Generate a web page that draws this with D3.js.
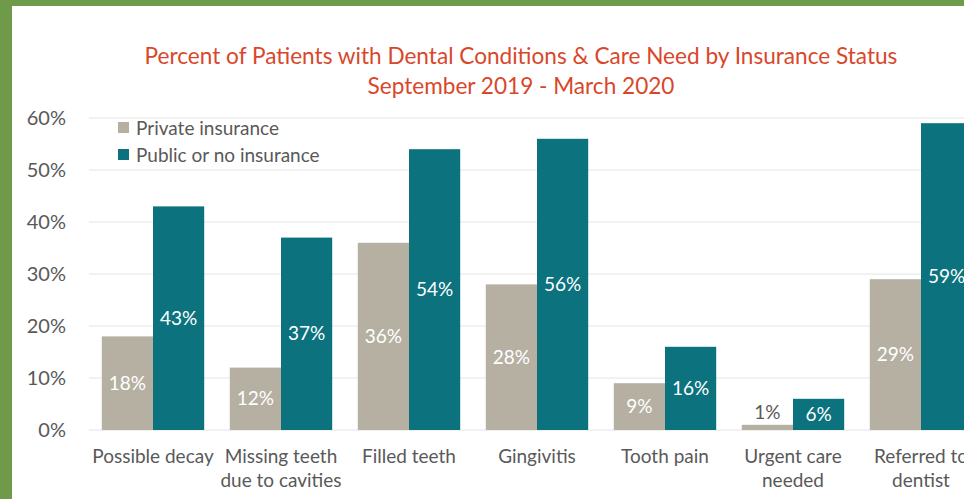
<!DOCTYPE html>
<html>
<head>
<meta charset="utf-8">
<script src="https://cdn.jsdelivr.net/npm/d3@7"></script>
<style>
  html, body { margin: 0; padding: 0; background: #6E9A4A; }
  svg { display: block; }
</style>
</head>
<body>
<svg id="chart" width="964" height="499"></svg>
<script>
const categories = [
  ["Possible decay"],
  ["Missing teeth", "due to cavities"],
  ["Filled teeth"],
  ["Gingivitis"],
  ["Tooth pain"],
  ["Urgent care", "needed"],
  ["Referred to", "dentist"]
];
const privateValues = [18, 12, 36, 28, 9, 1, 29];
const publicValues = [43, 37, 54, 56, 16, 6, 59];
const seriesNames = ["Private insurance", "Public or no insurance"];
const yTicks = [0, 10, 20, 30, 40, 50, 60];

const svg = d3.select("#chart");
const font = "Lato, 'Open Sans', sans-serif";

// fond blanc, bordure verte à gauche et en haut
svg.append("rect").attr("x", 12).attr("y", 6).attr("width", 952).attr("height", 493).attr("fill", "#fff");

const x0 = d3.scaleBand().domain(d3.range(categories.length)).range([89, 985]).paddingInner(0.2).paddingOuter(0.1);
const x1 = d3.scaleBand().domain([0, 1]).range([0, x0.bandwidth()]);
const y = d3.scaleLinear().domain([0, 60]).range([430, 118]);

const colors = ["#B6B0A3", "#0B727E"];

// lignes de grille
svg.append("g").selectAll("line").data(yTicks).join("line")
  .attr("x1", 89).attr("x2", 964)
  .attr("y1", d => y(d)).attr("y2", d => y(d))
  .attr("stroke", "#E4E4E4").attr("stroke-width", 1);

// axe Y
const yAxis = svg.append("g").attr("transform", "translate(66,0)")
  .call(d3.axisLeft(y).tickValues(yTicks).tickFormat(d => d + "%").tickSize(0).tickPadding(0));
yAxis.select(".domain").remove();
yAxis.selectAll("text").attr("font-family", font).attr("font-size", 20).attr("fill", "#595959");

// barres
const rows = categories.map((c, i) => [privateValues[i], publicValues[i]]);
const groups = svg.append("g").selectAll("g").data(rows).join("g")
  .attr("transform", (d, i) => `translate(${x0(i)},0)`);

groups.selectAll("rect").data(d => d.map((v, k) => ({ v, k }))).join("rect")
  .attr("x", d => x1(d.k))
  .attr("width", x1.bandwidth())
  .attr("y", d => y(d.v))
  .attr("height", d => y(0) - y(d.v))
  .attr("fill", d => colors[d.k]);

// étiquettes de valeurs
groups.selectAll("text").data(d => d.map((v, k) => ({ v, k }))).join("text")
  .attr("x", d => x1(d.k) + x1.bandwidth() / 2)
  .attr("y", d => d.v < 3 ? y(d.v) - 12 : (y(d.v) + y(0)) / 2)
  .attr("dy", "0.35em")
  .attr("text-anchor", "middle")
  .attr("font-family", font).attr("font-size", 19)
  .attr("fill", d => d.v < 3 ? "#595959" : "#fff")
  .text(d => d.v + "%");

// étiquettes des catégories
const catLabels = svg.append("g").selectAll("text").data(categories).join("text")
  .attr("x", (d, i) => x0(i) + x0.bandwidth() / 2)
  .attr("y", 463)
  .attr("text-anchor", "middle")
  .attr("font-family", font).attr("font-size", 19).attr("fill", "#595959");
catLabels.selectAll("tspan").data(d => d).join("tspan")
  .attr("x", function () { return this.parentNode.getAttribute("x"); })
  .attr("dy", (d, i) => i === 0 ? 0 : 24)
  .text(d => d);

// légende
const legend = svg.append("g").selectAll("g").data(seriesNames).join("g")
  .attr("transform", (d, i) => `translate(118,${128 + i * 27})`);
legend.append("rect").attr("x", 0).attr("y", -6).attr("width", 11).attr("height", 11).attr("fill", (d, i) => colors[i]);
legend.append("text").attr("x", 18).attr("dy", "0.35em")
  .attr("font-family", font).attr("font-size", 19).attr("fill", "#595959").text(d => d);

// titre
svg.append("text").attr("x", 521).attr("y", 64).attr("text-anchor", "middle")
  .attr("font-family", font).attr("font-size", 22.6).attr("fill", "#D9472B")
  .text("Percent of Patients with Dental Conditions & Care Need by Insurance Status");
svg.append("text").attr("x", 521).attr("y", 94).attr("text-anchor", "middle")
  .attr("font-family", font).attr("font-size", 22.6).attr("fill", "#D9472B")
  .text("September 2019 - March 2020");
</script>
</body>
</html>
